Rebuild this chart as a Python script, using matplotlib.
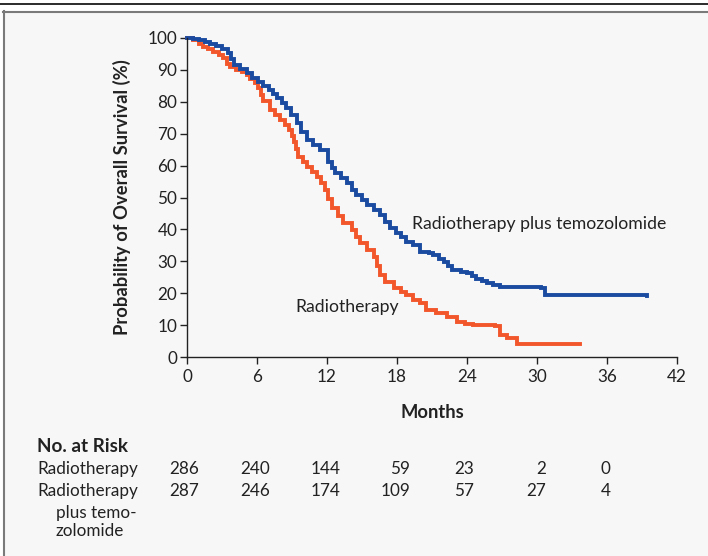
import matplotlib
matplotlib.use("Agg")
import matplotlib.pyplot as plt
from matplotlib.lines import Line2D
from matplotlib.patches import Rectangle
import matplotlib.transforms as mtransforms

plt.rcParams['font.family'] = ['Lato', 'DejaVu Sans']

# ---- data ----
rt_months = [0, 0.5, 1.0, 1.4, 1.8, 2.25, 2.7, 3.1, 3.4, 3.7, 4.2, 4.7, 5.1, 5.4, 5.8,
             6.1, 6.3, 6.5, 7.1, 7.5, 8.0, 8.4, 8.7, 9.0, 9.2, 9.35, 9.5, 9.9, 10.3, 10.7,
             11.1, 11.5, 11.8, 12.1, 12.4, 12.9, 13.4, 14.1, 14.5, 14.8, 15.4, 16.0, 16.3,
             16.5, 17.0, 17.7, 18.3, 18.8, 19.4, 20.0, 20.5, 21.3, 22.3, 23.1, 23.8, 24.5,
             26.4, 26.8, 27.4, 28.3, 33.7]
rt_surv = [100, 99.3, 98.2, 97.3, 96.5, 95.7, 94.6, 93.6, 92.0, 91.0, 90.0, 89.4, 88.4, 87.3, 85.8,
           84.2, 82.0, 80.4, 77.4, 76.0, 74.3, 72.8, 71.2, 69.2, 67.5, 65.3, 62.8, 61.2, 59.7, 58.1,
           56.5, 54.5, 52.4, 49.5, 46.6, 44.2, 41.9, 39.8, 37.7, 35.6, 33.5, 31.4, 28.5,
           25.7, 23.5, 21.5, 20.4, 19.4, 18.0, 16.8, 14.7, 13.7, 12.6, 11.1, 10.5, 10.0,
           9.7, 6.9, 5.8, 4.1, 4.1]

tmz_months = [0, 0.5, 1.0, 1.5, 2.0, 2.5, 3.0, 3.5, 3.8, 4.0, 4.5, 5.1, 5.6, 6.1, 6.5, 7.0,
              7.4, 7.7, 8.1, 8.5, 8.9, 9.4, 9.8, 10.3, 10.8, 11.4, 12.1, 12.4, 12.7, 13.2,
              13.7, 14.1, 14.5, 15.0, 15.4, 16.0, 16.5, 17.0, 17.4, 17.9, 18.3, 18.8, 19.4,
              20.0, 20.7, 21.1, 21.6, 22.0, 22.4, 22.7, 23.5, 24.0, 24.4, 24.8, 25.3, 25.7,
              26.2, 26.8, 30.3, 30.7, 39.4]
tmz_surv = [100, 99.7, 99.3, 98.8, 98.0, 97.4, 96.5, 95.2, 93.5, 91.5, 90.2, 88.9, 87.6, 86.3, 85.0, 83.7,
            82.4, 81.1, 79.6, 78.0, 76.0, 73.2, 70.5, 68.0, 66.5, 64.9, 61.2, 59.3, 57.6, 56.0,
            54.4, 52.5, 50.8, 49.2, 47.6, 46.0, 44.5, 42.4, 40.3, 39.0, 37.7, 36.0, 35.1,
            33.0, 32.5, 32.0, 30.8, 29.9, 28.5, 27.3, 26.8, 26.2, 25.3, 24.6, 23.9, 23.3,
            22.5, 21.8, 21.5, 19.4, 19.1]

x_ticks = [0, 6, 12, 18, 24, 30, 36, 42]
y_ticks = [0, 10, 20, 30, 40, 50, 60, 70, 80, 90, 100]

risk_rt = ["286", "240", "144", "59", "23", "2", "0"]
risk_tmz = ["287", "246", "174", "109", "57", "27", "4"]
risk_months = [0, 6, 12, 18, 24, 30, 36]

label_rt = "Radiotherapy"
label_tmz = "Radiotherapy plus temozolomide"

# ---- style ----
W, H = 708, 556
BLUE = '#1b4ba1'
RED = '#f2572b'
INK = '#222222'
FS = 12.3       # regular text
FS_ANN = 12.7   # curve labels
FS_B = 13.2     # bold labels

fig = plt.figure(figsize=(W / 100, H / 100), dpi=100)
fig.patch.set_facecolor('white')

# panel background and borders
fig.patches.append(Rectangle((4 / W, 0), 1 - 4 / W, (H - 12) / H, transform=fig.transFigure,
                             facecolor='#f7f7f7', edgecolor='none', zorder=-10))
fig.lines.append(Line2D([3.7 / W, 3.7 / W], [0, (H - 11) / H], transform=fig.transFigure,
                        color='#7a7a7a', lw=1.5, zorder=-5))
fig.lines.append(Line2D([3 / W, 1], [(H - 11.7) / H, (H - 11.7) / H], transform=fig.transFigure,
                        color='#7a7a7a', lw=1.5, zorder=-5))
fig.lines.append(Line2D([0, 1], [(H - 4.2) / H, (H - 4.2) / H], transform=fig.transFigure,
                        color='#1a1a1a', lw=1.3, zorder=-5))

ax = fig.add_axes([187 / W, (H - 357) / H, (677 - 187) / W, (357 - 38) / H])
ax.set_zorder(1)
ax.set_facecolor('none')

ax.plot(rt_months, rt_surv, drawstyle='steps-post', color=RED, lw=2.8, clip_on=False,
        solid_joinstyle='miter')
ax.plot(tmz_months, tmz_surv, drawstyle='steps-post', color=BLUE, lw=2.8, clip_on=False,
        solid_joinstyle='miter')

ax.set_xlim(0, 42)
ax.set_ylim(0, 100)
ax.set_xticks(x_ticks)
ax.set_yticks(y_ticks)
for s in ['top', 'right']:
    ax.spines[s].set_visible(False)
for s in ['left', 'bottom']:
    ax.spines[s].set_color(INK)
    ax.spines[s].set_linewidth(1.0)
ax.tick_params(axis='both', direction='out', length=5, width=1.0, color=INK,
               labelsize=FS, labelcolor=INK)
ax.tick_params(axis='x', pad=4)
ax.tick_params(axis='y', pad=2)

ax.set_ylabel("Probability of Overall Survival (%)", fontsize=FS_B, fontweight='bold',
              color=INK, labelpad=12)
ax.set_xlabel("Months", fontsize=FS_B, fontweight='bold', color=INK, labelpad=13)

ax.text(19.26, 41.7, label_tmz, fontsize=FS_ANN, color=INK, ha='left', va='center')
ax.text(9.26, 15.7, label_rt, fontsize=FS_ANN, color=INK, ha='left', va='center')

# ---- risk table ----
trans = mtransforms.blended_transform_factory(ax.transData, fig.transFigure)
fig.text(37 / W, (H - 452.3) / H, "No. at Risk", fontsize=13.6, fontweight='bold', color=INK,
         ha='left', va='baseline')
row1_y = (H - 474.3) / H
row2_y = (H - 496) / H
fig.text(37 / W, row1_y, "Radiotherapy", fontsize=FS, color=INK, ha='left', va='baseline')
fig.text(37 / W, row2_y, "Radiotherapy", fontsize=FS, color=INK, ha='left', va='baseline')
fig.text(55.5 / W, (H - 518) / H, "plus temo-", fontsize=FS, color=INK, ha='left', va='baseline')
fig.text(55.5 / W, (H - 536.5) / H, "zolomide", fontsize=FS, color=INK, ha='left', va='baseline')

offsets = [1.0, 1.1, 1.15, 1.15, 0.6, 0.8, 0.3]
for m, off, a, b in zip(risk_months, offsets, risk_rt, risk_tmz):
    ax.text(m + off, row1_y, a, transform=trans, fontsize=FS, color=INK, ha='right',
            va='baseline', clip_on=False)
    ax.text(m + off, row2_y, b, transform=trans, fontsize=FS, color=INK, ha='right',
            va='baseline', clip_on=False)

fig.savefig("out.png", dpi=100, facecolor=fig.get_facecolor())
